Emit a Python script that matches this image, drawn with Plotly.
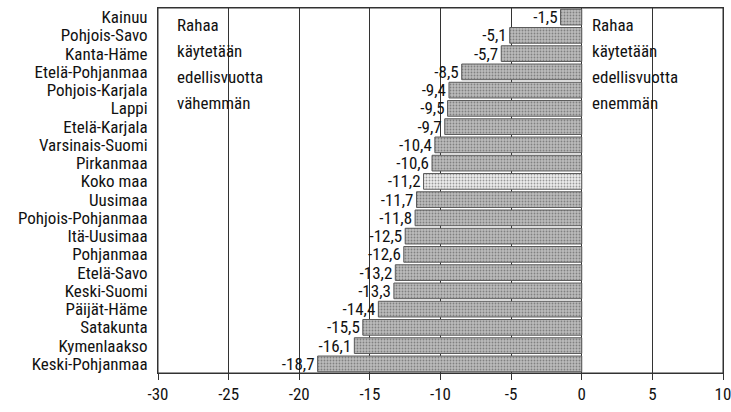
import plotly.graph_objects as go

regions = ["Kainuu", "Pohjois-Savo", "Kanta-Häme", "Etelä-Pohjanmaa", "Pohjois-Karjala",
           "Lappi", "Etelä-Karjala", "Varsinais-Suomi", "Pirkanmaa", "Koko maa",
           "Uusimaa", "Pohjois-Pohjanmaa", "Itä-Uusimaa", "Pohjanmaa", "Etelä-Savo",
           "Keski-Suomi", "Päijät-Häme", "Satakunta", "Kymenlaakso", "Keski-Pohjanmaa"]
change = [-1.5, -5.1, -5.7, -8.5, -9.4, -9.5, -9.7, -10.4, -10.6, -11.2,
          -11.7, -11.8, -12.5, -12.6, -13.2, -13.3, -14.4, -15.5, -16.1, -18.7]
x_ticks = [-30, -25, -20, -15, -10, -5, 0, 5, 10]

font = "Roboto Condensed, DejaVu Sans Condensed, sans-serif"

colors = ["#ececec" if r == "Koko maa" else "#bcbcbc" for r in regions]
labels = [f"{v:.1f}".replace(".", ",") for v in change]

fig = go.Figure(go.Bar(
    x=change, y=regions, orientation="h",
    marker=dict(color=colors, line=dict(color="#5a5a5a", width=1),
                pattern=dict(shape=".", fgcolor="#7a7a7a", size=3, solidity=0.3)),
    width=0.86,
    text=labels, textposition="outside", cliponaxis=False, constraintext="none",
    textfont=dict(family=font, size=17, color="#111"),
))

# text boxes on both sides of zero
left_txt = ["Rahaa", "käytetään", "edellisvuotta", "vähemmän"]
right_txt = ["Rahaa", "käytetään", "edellisvuotta", "enemmän"]
for i, (a, b) in enumerate(zip(left_txt, right_txt)):
    yy = 0.43 + 1.42 * i
    fig.add_annotation(x=-28.8, y=yy, text=a, showarrow=False, xanchor="left",
                       font=dict(family=font, size=17, color="#111"))
    fig.add_annotation(x=0.55, y=yy, text=b, showarrow=False, xanchor="left",
                       font=dict(family=font, size=17, color="#111"))

# frame around the plot area
fig.add_shape(type="rect", xref="paper", yref="paper", x0=0, x1=1, y0=0, y1=1,
              line=dict(color="#333", width=1), layer="above")

fig.update_layout(
    width=731, height=412,
    margin=dict(l=158, r=8, t=8, b=39),
    plot_bgcolor="white", paper_bgcolor="white",
    showlegend=False,
    font=dict(family=font, size=17, color="#111"),
)
fig.update_xaxes(range=[-30, 10], tickvals=x_ticks, ticktext=[str(t) for t in x_ticks],
                 showgrid=True, gridcolor="#333", gridwidth=1, zeroline=False,
                 showline=True, linecolor="#333", mirror=True, automargin=False,
                 ticks="outside", ticklen=6, tickcolor="#333", ticklabeloverflow="allow",
                 tickfont=dict(family=font, size=17))
fig.update_yaxes(autorange="reversed", showgrid=False, showline=True, linecolor="#333",
                 mirror=True, ticks="", automargin=False, ticklabelstandoff=6,
                 dtick=1, tickfont=dict(family=font, size=17))

# drop the default body margin so the figure fills the window exactly
fig.write_html("out.html", config={"displayModeBar": False},
               post_script="document.body.style.margin='0';document.body.style.overflow='hidden';")
